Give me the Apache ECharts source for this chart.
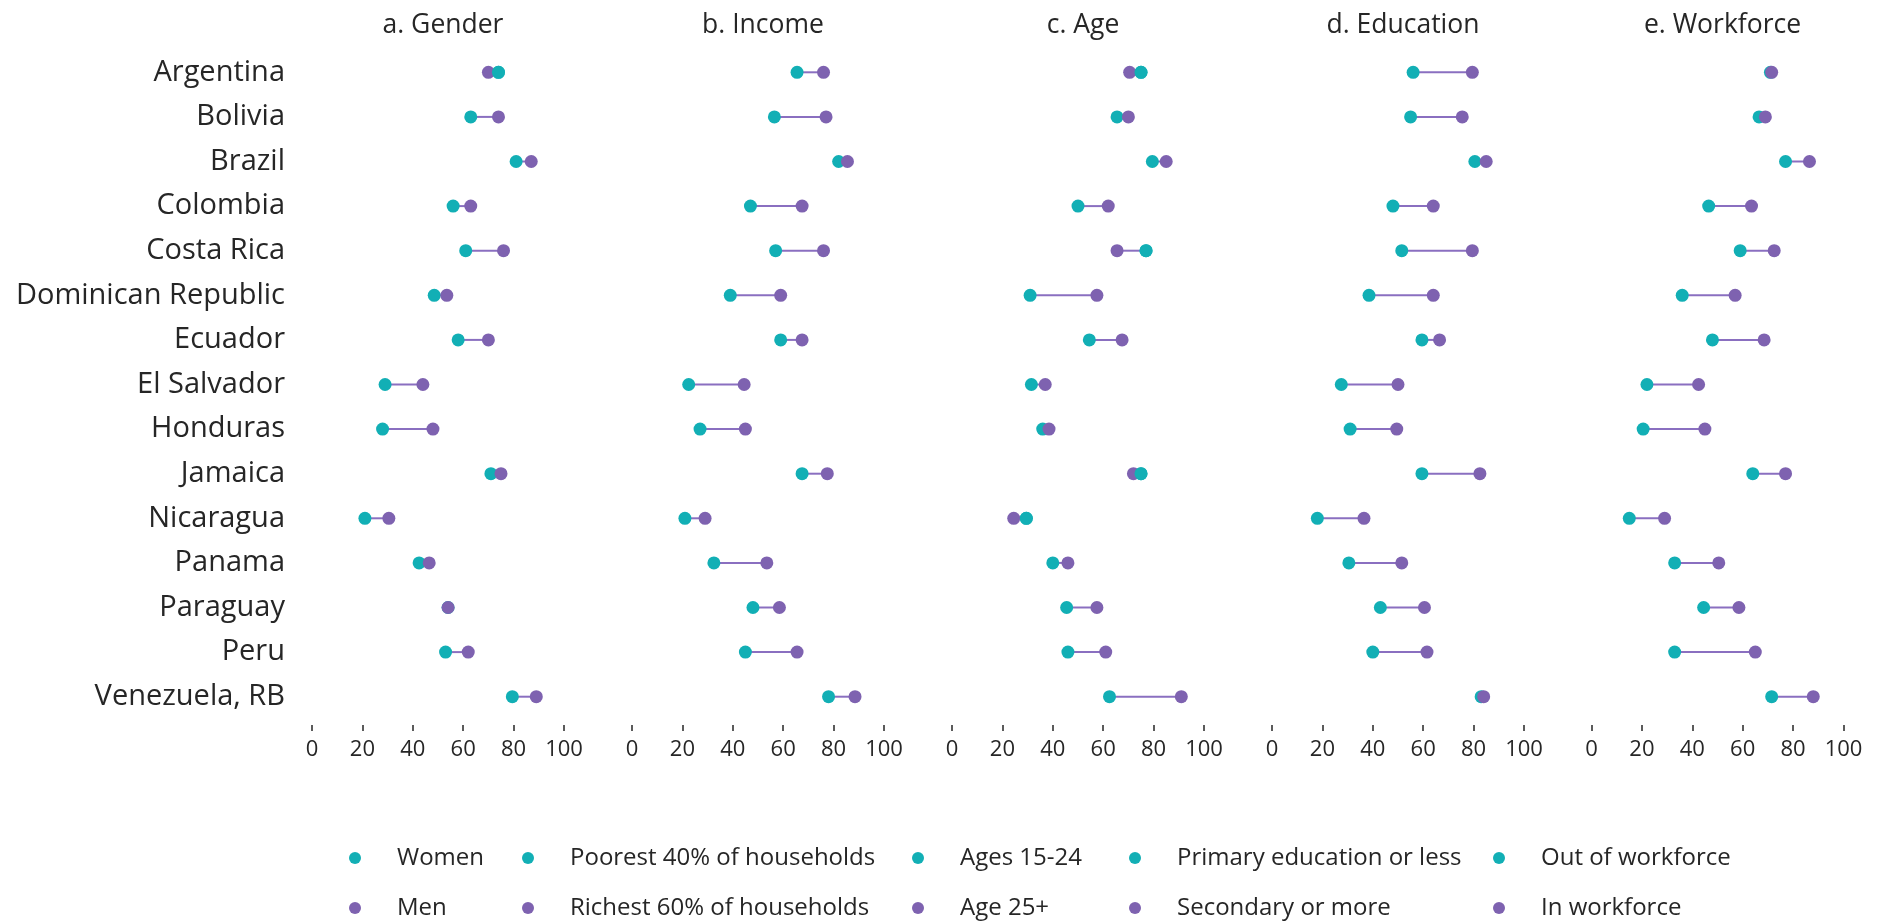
<!DOCTYPE html>
<html>
<head>
<meta charset="utf-8">
<script src="https://cdn.jsdelivr.net/npm/echarts@6/dist/echarts.min.js"></script>
<style>
  html, body { margin: 0; padding: 0; background: #ffffff; }
  #chart { width: 1880px; height: 921px; }
</style>
</head>
<body>
<div id="chart"></div>
<script>
// Countries, top to bottom
const countries = ['Argentina', 'Bolivia', 'Brazil', 'Colombia', 'Costa Rica', 'Dominican Republic', 'Ecuador',
  'El Salvador', 'Honduras', 'Jamaica', 'Nicaragua', 'Panama', 'Paraguay', 'Peru', 'Venezuela, RB'];

// Panel titles and group names (first group teal, second group purple)
const panelTitles = ['a. Gender', 'b. Income', 'c. Age', 'd. Education', 'e. Workforce'];
const lowGroupNames = ['Women', 'Poorest 40% of households', 'Ages 15-24', 'Primary education or less', 'Out of workforce'];
const highGroupNames = ['Men', 'Richest 60% of households', 'Age 25+', 'Secondary or more', 'In workforce'];

// Values (%) per panel
const genderWomen = [74, 63, 81, 56, 61, 48.5, 58, 29, 28, 71, 21, 42.5, 54, 53, 79.5];
const genderMen = [70, 74, 87, 63, 76, 53.5, 70, 44, 48, 75, 30.5, 46.5, 54, 62, 89];
const incomePoorest = [65.5, 56.5, 82, 47, 57, 39, 59, 22.5, 27, 67.5, 21, 32.5, 48, 45, 78];
const incomeRichest = [76, 77, 85.5, 67.5, 76, 59, 67.5, 44.5, 45, 77.5, 29, 53.5, 58.5, 65.5, 88.5];
const ageYoung = [75, 65.5, 79.5, 50, 77, 31, 54.5, 31.5, 36, 75, 29.5, 40, 45.5, 46, 62.5];
const ageOlder = [70.5, 70, 85, 62, 65.5, 57.5, 67.5, 37, 38.5, 72, 24.5, 46, 57.5, 61, 91];
const eduPrimary = [56, 55, 80.5, 48, 51.5, 38.5, 59.5, 27.5, 31, 59.5, 18, 30.5, 43, 40, 83];
const eduSecondary = [79.5, 75.5, 85, 64, 79.5, 64, 66.5, 50, 49.5, 82.5, 36.5, 51.5, 60.5, 61.5, 84];
const workOut = [71, 66.5, 77, 46.5, 59, 36, 48, 22, 20.5, 64, 15, 33, 44.5, 33, 71.5];
const workIn = [71.5, 69, 86.5, 63.5, 72.5, 57, 68.5, 42.5, 45, 77, 29, 50.5, 58.5, 65, 88];

const xTicks = [0, 20, 40, 60, 80, 100];

const lowSeries = [genderWomen, incomePoorest, ageYoung, eduPrimary, workOut];
const highSeries = [genderMen, incomeRichest, ageOlder, eduSecondary, workIn];

const TEAL = '#12afb5';
const PURPLE = '#7e62b0';
const LINE = '#8a6fc0';
const TEXT = '#262626';
const FONT = '"Open Sans", sans-serif';

const panelLeft = [312, 632, 952, 1272, 1591.5];
const panelWidth = 252;
const gridTop = 50;
const gridHeight = 669;

const grids = [], xAxes = [], yAxes = [], series = [], titles = [], legends = [];
const legendLeft = [349, 522, 912, 1129, 1493];

panelTitles.forEach((t, p) => {
  grids.push({ left: panelLeft[p], top: gridTop, width: panelWidth, height: gridHeight, containLabel: false });
  xAxes.push({
    type: 'value', gridIndex: p, min: xTicks[0], max: xTicks[xTicks.length - 1], interval: xTicks[1] - xTicks[0],
    offset: 6,
    axisLine: { show: false },
    axisTick: { show: true, length: 6, lineStyle: { color: TEXT, width: 1.5 } },
    splitLine: { show: false },
    axisLabel: { fontFamily: FONT, fontSize: 22, color: TEXT, margin: 14 }
  });
  yAxes.push({
    type: 'category', gridIndex: p, data: countries, inverse: true,
    axisLine: { show: false }, axisTick: { show: false }, splitLine: { show: false },
    axisLabel: { show: p === 0, fontFamily: FONT, fontSize: 29, color: TEXT, margin: 27 }
  });
  titles.push({
    text: t, left: panelLeft[p] + panelWidth / 2, top: 7, textAlign: 'center',
    textStyle: { fontFamily: FONT, fontSize: 26.5, fontWeight: 'normal', color: TEXT }
  });

  const lo = lowSeries[p], hi = highSeries[p];
  // connecting segments
  series.push({
    type: 'custom', xAxisIndex: p, yAxisIndex: p, z: 1, silent: true,
    data: countries.map((c, i) => [lo[i], hi[i], i]),
    encode: { x: [0, 1], y: 2 },
    renderItem: function (params, api) {
      const a = api.coord([api.value(0), api.value(2)]);
      const b = api.coord([api.value(1), api.value(2)]);
      return { type: 'line', shape: { x1: a[0], y1: a[1], x2: b[0], y2: b[1] },
        style: { stroke: LINE, lineWidth: 2 } };
    }
  });
  const sym = { type: 'scatter', xAxisIndex: p, yAxisIndex: p, symbol: 'circle', symbolSize: 13, silent: true };
  series.push(Object.assign({}, sym, { name: lowGroupNames[p], z: 3, itemStyle: { color: TEAL, opacity: 1 },
    data: countries.map((c, i) => [lo[i], c]) }));
  series.push(Object.assign({}, sym, { name: highGroupNames[p], z: 4, itemStyle: { color: PURPLE, opacity: 1 },
    data: countries.map((c, i) => [hi[i], c]) }));
  // where the first group lies to the right, it is drawn over the second
  series.push(Object.assign({}, sym, { name: lowGroupNames[p], z: 5, itemStyle: { color: TEAL, opacity: 1 },
    data: countries.map((c, i) => [lo[i], c]).filter((d, i) => lo[i] > hi[i]) }));

  legends.push({
    orient: 'vertical', left: legendLeft[p], top: 846, height: 140, padding: 0,
    data: [lowGroupNames[p], highGroupNames[p]],
    icon: 'circle', itemWidth: 12, itemHeight: 12, itemGap: 26,
    selectedMode: false,
    textStyle: { fontFamily: FONT, fontSize: 24, color: TEXT, padding: [0, 0, 0, 31], lineHeight: 24 }
  });
});

const chart = echarts.init(document.getElementById('chart'), null, { renderer: 'canvas' });
chart.setOption({
  backgroundColor: '#ffffff',
  animation: false,
  title: titles,
  legend: legends,
  grid: grids,
  xAxis: xAxes,
  yAxis: yAxes,
  series: series
});
</script>
</body>
</html>
